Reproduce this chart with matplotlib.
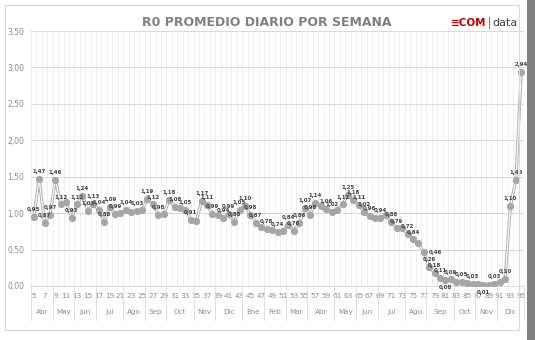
import matplotlib
matplotlib.use("Agg")
import matplotlib.pyplot as plt
import matplotlib.transforms as mtransforms
from matplotlib.patches import Rectangle
import numpy as np

# semanas 5..95 y R0 promedio diario
semanas = list(range(5, 96))
r0 = [0.95, 1.47, 0.87, 0.97, 1.46, 1.12, 1.15, 0.93, 1.12, 1.24,
      1.03, 1.13, 1.04, 0.88, 1.09, 0.99, 1.00, 1.04, 1.02, 1.03,
      1.04, 1.19, 1.12, 0.98, 0.99, 1.18, 1.08, 1.07, 1.05, 0.91,
      0.89, 1.17, 1.11, 0.99, 0.97, 0.94, 0.99, 0.88, 1.05, 1.10,
      0.98, 0.87, 0.81, 0.78, 0.77, 0.74, 0.76, 0.84, 0.76, 0.86,
      1.07, 0.98, 1.14, 1.10, 1.06, 1.02, 1.05, 1.12, 1.25, 1.18,
      1.11, 1.02, 0.96, 0.93, 0.94, 0.97, 0.88, 0.79, 0.79, 0.72,
      0.64, 0.59, 0.46, 0.26, 0.18, 0.11, 0.08, 0.09, 0.06, 0.05,
      0.04, 0.03, 0.03, 0.01, 0.01, 0.03, 0.06, 0.10, 1.10, 1.46,
      2.94]

# semanas con etiqueta visible y su posición ('a' arriba, 'b' abajo, 'd' derecha)
etiquetas = {5: 'a', 6: 'a', 7: 'a', 8: 'a', 9: 'a', 10: 'a', 12: 'a', 13: 'a',
             14: 'a', 15: 'a', 16: 'a', 17: 'a', 18: 'a', 19: 'a', 20: 'a',
             22: 'a', 24: 'a', 26: 'a', 27: 'a', 28: 'a', 30: 'a', 31: 'a',
             33: 'a', 34: 'a', 36: 'a', 37: 'a', 38: 'a', 40: 'a', 41: 'a',
             42: 'a', 43: 'a', 44: 'a', 45: 'a', 46: 'a', 48: 'a', 50: 'a',
             52: 'a', 53: 'a', 54: 'a', 55: 'a', 56: 'a', 57: 'a', 59: 'a',
             60: 'a', 62: 'a', 63: 'a', 64: 'a', 65: 'a', 66: 'a', 67: 'a',
             69: 'a', 71: 'a', 72: 'a', 74: 'a', 75: 'a', 77: 'd', 78: 'a',
             79: 'a', 80: 'a', 81: 'b', 82: 'a', 84: 'a', 86: 'a', 88: 'b',
             90: 'a', 92: 'a', 93: 'a', 94: 'a', 95: 'a'}

meses = ['Abr', 'May', 'Jun', 'Jul', 'Ago', 'Sep', 'Oct', 'Nov', 'Dic', 'Ene',
         'Feb', 'Mar', 'Abr', 'May', 'Jun', 'Jul', 'Ago', 'Sep', 'Oct', 'Nov', 'Dic']
semanas_mes = [4, 4, 4, 5, 4, 4, 5, 4, 5, 4, 4, 4, 5, 4, 4, 5, 4, 5, 4, 4, 5]

W, H = 535, 340
fig = plt.figure(figsize=(W / 100, H / 100), dpi=100)
fig.patch.set_facecolor('white')

# cadre du graphique + bande grise à droite
fig.patches.append(Rectangle((5 / W, 1 - 330 / H), 514 / W, 325 / H, transform=fig.transFigure,
                             fill=False, ec='#d9d9d9', lw=0.8))
fig.patches.append(Rectangle((527 / W, 0), 8 / W, 1, transform=fig.transFigure,
                             fc='#7f7f7f', ec='none'))

ax = fig.add_axes([31 / W, 1 - 286 / H, (524 - 31) / W, (286 - 31) / H])
x = np.arange(len(semanas))

ax.set_xlim(-0.5, len(semanas) - 0.5)
ax.set_ylim(0, 3.5)
ax.set_yticks(np.arange(0, 3.51, 0.5))
ax.set_yticklabels([f"{v:.2f}".replace('.', ',') for v in np.arange(0, 3.51, 0.5)],
                   fontsize=5.5, color='#8c8c8c')
ax.set_xticks([i for i, s in enumerate(semanas) if s % 2 == 1])
ax.set_xticklabels([str(s) for s in semanas if s % 2 == 1], fontsize=5.2, color='#8c8c8c')
ax.tick_params(length=0, pad=5)
ax.set_xticks(np.arange(-0.5, len(semanas)), minor=True)
ax.tick_params(which='minor', length=0)

ax.grid(axis='y', color='#d9d9d9', lw=0.7)
ax.grid(axis='x', which='minor', color='#ededed', lw=0.6)
ax.grid(axis='x', which='major', visible=False)
for s in ['top', 'right', 'left']:
    ax.spines[s].set_visible(False)
ax.spines['bottom'].set_color('#d9d9d9')
ax.spines['bottom'].set_linewidth(0.7)
ax.set_axisbelow(True)

# ligne double + marqueurs
ax.plot(x, r0, color='#b0b0b0', lw=2.2, zorder=2, solid_joinstyle='round')
ax.plot(x, r0, color='white', lw=0.8, zorder=3)
ax.plot(x, r0, 'o', ms=4.2, color='#a6a6a6', mec='#a6a6a6', zorder=4)

for s, pos in etiquetas.items():
    i = semanas.index(s)
    v = r0[i]
    txt = f"{v:.2f}".replace('.', ',')
    if pos == 'a':
        off, ha, va = (0, 3.5), 'center', 'bottom'
    elif pos == 'b':
        off, ha, va = (0, -3.5), 'center', 'top'
    else:
        off, ha, va = (3.5, 0), 'left', 'center'
    ax.annotate(txt, (i, v), xytext=off, textcoords='offset points', ha=ha, va=va,
                fontsize=3.9, color='#404040', fontweight='bold', zorder=5)

# eje de meses (segundo nivel)
trans = mtransforms.blended_transform_factory(ax.transData, ax.transAxes)
y_sep = -(320 - 286) / (286 - 31)
y_mes = -(312 - 286) / (286 - 31)
inicio = -0.5
for m, n in zip(meses, semanas_mes):
    ax.plot([inicio, inicio], [0, y_sep], transform=trans, color='#d9d9d9', lw=0.6, clip_on=False)
    ax.text(inicio + n / 2, y_mes, m, transform=trans, ha='center', va='center',
            fontsize=5.2, color='#8c8c8c')
    inicio += n
ax.plot([inicio, inicio], [0, y_sep], transform=trans, color='#d9d9d9', lw=0.6, clip_on=False)

fig.text(267 / W, 1 - 23 / H, 'R0 PROMEDIO DIARIO POR SEMANA', ha='center', va='center',
         fontsize=9, fontweight='bold', color='#808080')
# logo ECOM|data
fig.text(451 / W, 1 - 23 / H, '\u2261COM', ha='left', va='center', fontsize=7.5,
         fontweight='bold', color='#c00000')
fig.patches.append(Rectangle((489 / W, 1 - 29 / H), 1.2 / W, 12 / H, transform=fig.transFigure,
                             fc='#7f7f7f', ec='none'))
fig.text(492 / W, 1 - 23 / H, 'data', ha='left', va='center', fontsize=8,
         color='#404040')

fig.savefig('out.png', dpi=100)
